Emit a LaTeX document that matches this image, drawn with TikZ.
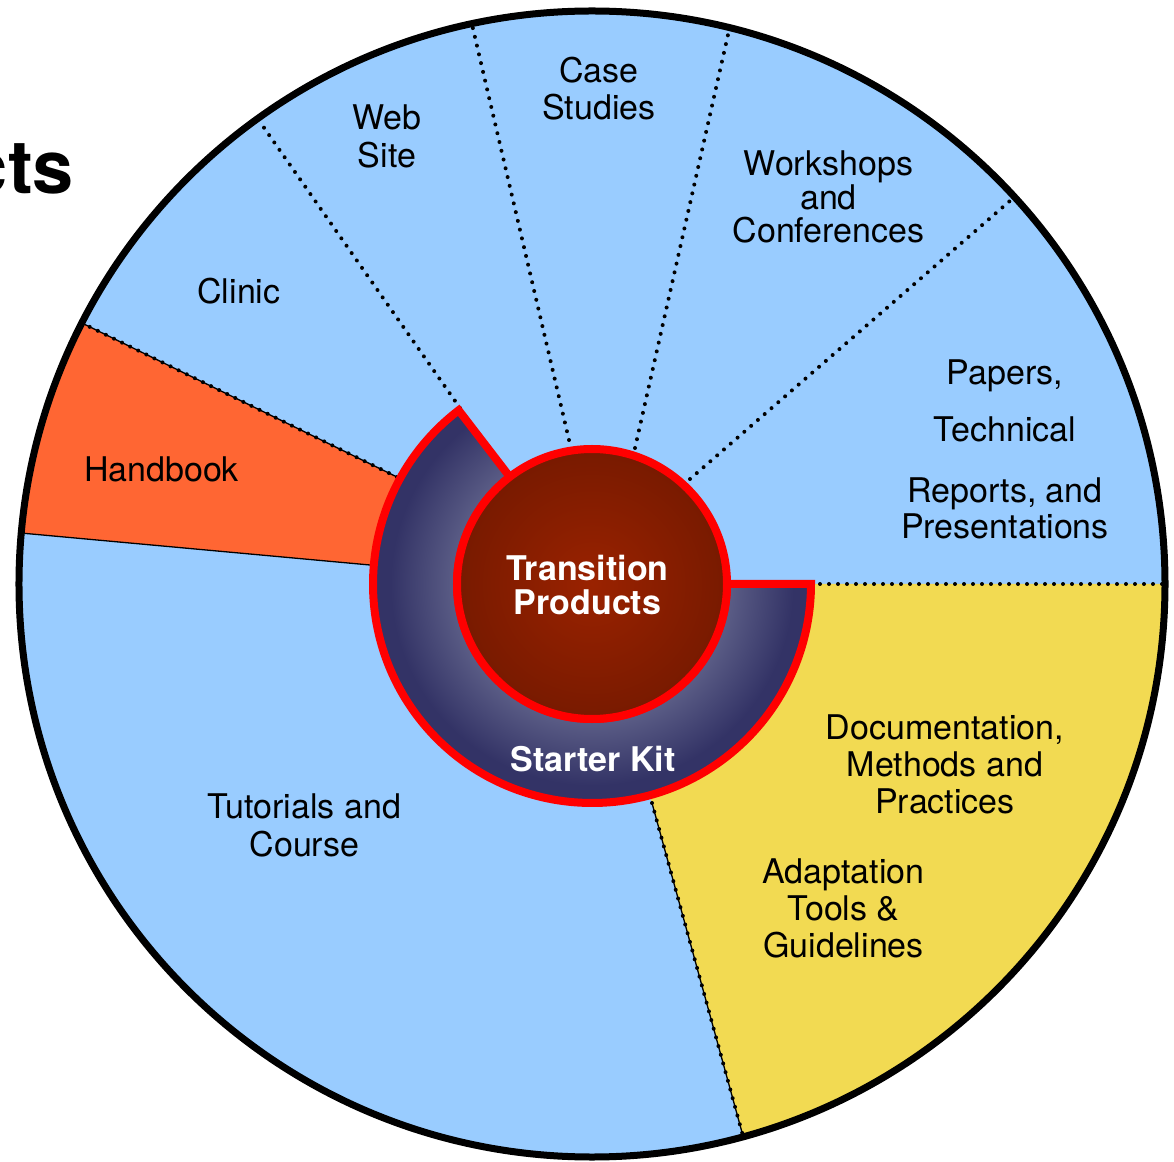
\documentclass[tikz,border=0pt]{standalone}
\usepackage{fontspec}
\setmainfont{TeX Gyre Heros}

\definecolor{skyfill}{HTML}{99CCFF}
\definecolor{orangefill}{HTML}{FF6633}
\definecolor{yellowfill}{HTML}{F2DA52}
\definecolor{rimred}{HTML}{FF0000}
\definecolor{ringlight}{HTML}{5B5D86}
\definecolor{ringdark}{HTML}{333366}
\definecolor{corelight}{HTML}{9A2200}
\definecolor{coredark}{HTML}{781A00}

% radial shadings: 25bp corresponds to the radius of the shaded circle
\pgfdeclareradialshading{ringshade}{\pgfpoint{0bp}{0bp}}{%
  color(0bp)=(ringlight); color(15.6bp)=(ringlight);
  color(23bp)=(ringdark); color(25bp)=(ringdark); color(50bp)=(ringdark)}
\pgfdeclareradialshading{coreshade}{\pgfpoint{0bp}{0bp}}{%
  color(0bp)=(corelight); color(25bp)=(coredark); color(50bp)=(coredark)}

\tikzset{
  lbl/.style={font=\fontsize{34}{37}\selectfont, align=center,
              inner sep=0pt, text depth=0pt},
  boldlbl/.style={lbl, text=white, font=\fontsize{34}{34}\selectfont\bfseries},
  sepdots/.style={line width=4pt, line cap=round, dash pattern=on 0pt off 9pt},
  septhin/.style={line width=1.3pt},
  rim/.style={draw=rimred, line width=8pt, line join=miter},
}

\begin{document}
\begin{tikzpicture}[x=1pt,y=1pt]
\useasboundingbox (-592,-577) rectangle (582,584);
\coordinate (O) at (0,0);

% sectors of the outer disc
\fill[skyfill] (O) circle (573);
\fill[orangefill] (152.9:573) arc[start angle=152.9, end angle=174.9, radius=573]
  -- (-222,19) -- (O) -- (-195,107) -- cycle;
\fill[yellowfill] (O) -- (-74.7:573) arc[start angle=-74.7, end angle=0, radius=573] -- cycle;

% sector dividers
\coordinate (caseIn) at (43,136);    \coordinate (caseOut) at (76.1:570);
\coordinate (webIn) at (-23,144);    \coordinate (webOut) at (102.1:570);
\coordinate (clinicIn) at (-132,176);\coordinate (clinicOut) at (125.7:570);
\coordinate (workIn) at (98,105);    \coordinate (workOut) at (42.5:570);
\coordinate (papIn) at (219,0);      \coordinate (papOut) at (0:570);
\coordinate (docIn) at (60,-219);    \coordinate (docOut) at (-74.7:570);
\coordinate (tutIn) at (-222,19);    \coordinate (tutOut) at (174.9:570);
\coordinate (handIn) at (-195,107);  \coordinate (handOut) at (152.9:570);

\draw[sepdots] (caseIn) -- (caseOut);
\draw[sepdots] (webIn) -- (webOut);
\draw[sepdots] (clinicIn) -- (clinicOut);
\draw[sepdots] (workIn) -- (workOut);
\draw[sepdots] (papIn) -- (papOut);
\draw[septhin] (docIn) -- (docOut);
\draw[sepdots] (docIn) -- (docOut);
\draw[septhin] (tutIn) -- (tutOut);
\draw[septhin] (handIn) -- (handOut);
\draw[sepdots] (handIn) -- (handOut);

% outer rim
\draw[line width=7pt] (O) circle (573);

% starter kit ring
\begin{scope}
  \clip (127.5:219) arc[start angle=127.5, end angle=360, radius=219]
    -- (135,0) arc[start angle=360, end angle=127.5, radius=135] -- cycle;
  \shade[shading=ringshade] (O) circle (219);
\end{scope}
\draw[rim] (127.5:219) arc[start angle=127.5, end angle=360, radius=219]
  -- (135,0) arc[start angle=360, end angle=127.5, radius=135] -- cycle;

% core disc
\shade[shading=coreshade] (O) circle (135);
\draw[rim] (O) circle (135);

% labels
\node[lbl, font=\fontsize{34}{37}\selectfont] (case) at (7,495.5) {Case\\Studies};
\node[lbl, font=\fontsize{34}{38}\selectfont] (web) at (-205,447.5) {Web\\Site};
\node[lbl, font=\fontsize{34}{33.5}\selectfont] (work) at (236.5,387) {Workshops\\and\\Conferences};
\node[lbl] (clinic) at (-353,293) {Clinic};
\node[lbl] (hand) at (-430.5,115) {Handbook};
\node[lbl, font=\fontsize{34}{36}\selectfont] (papers) at (413,135)
  {Papers,\\[21pt]Technical\\[25pt]Reports, and\\Presentations};
\node[lbl] (doc) at (353,-180.5) {Documentation,\\Methods and\\Practices};
\node[lbl] (adapt) at (251.5,-324) {Adaptation\\Tools \&\\Guidelines};
\node[lbl, font=\fontsize{34}{38}\selectfont] (tut) at (-287.5,-241) {Tutorials and\\Course};
\node[boldlbl] (kit) at (1,-174.7) {Starter Kit};
\node[boldlbl] (core) at (-4.5,-1.3) {Transition\\Products};

% title fragment at the left edge
\node[font=\fontsize{74}{80}\selectfont\bfseries, anchor=base east, inner sep=0pt]
  (title) at (-518,390) {cts};
\end{tikzpicture}
\end{document}
